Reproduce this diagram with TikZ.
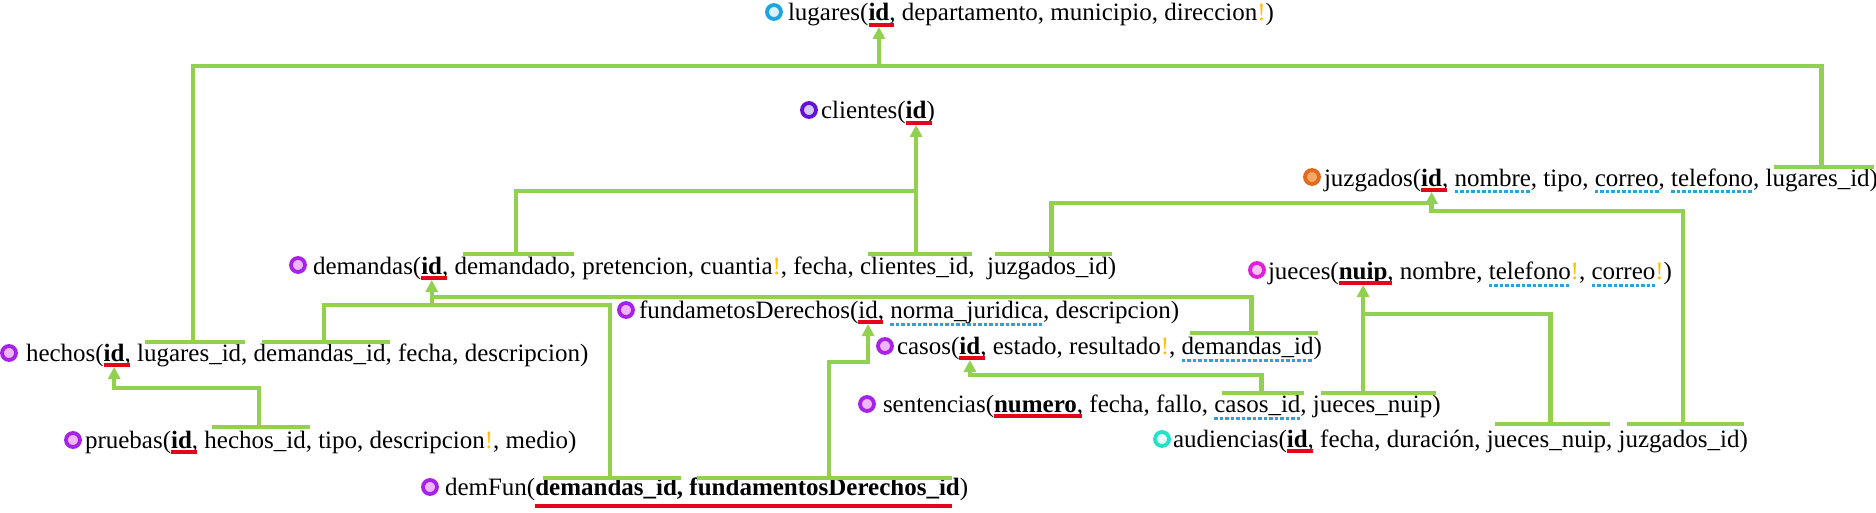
\documentclass[tikz,border=0pt]{standalone}
\usepackage{fontspec}
\setmainfont{Liberation Serif}
\usetikzlibrary{arrows.meta}
\definecolor{lgreen}{HTML}{92D050}
\definecolor{ulred}{HTML}{E3061A}
\definecolor{ulblue}{HTML}{29A3DE}
\definecolor{bangc}{HTML}{FFC000}
\definecolor{ringpur}{HTML}{A522E6}
\definecolor{fillpur}{HTML}{F0B4F8}
\definecolor{ringblue}{HTML}{1CA6E0}
\definecolor{fillblue}{HTML}{DCEFFA}
\definecolor{ringvio}{HTML}{6410D8}
\definecolor{fillvio}{HTML}{D6C8F6}
\definecolor{ringora}{HTML}{E2691E}
\definecolor{fillora}{HTML}{F6A865}
\definecolor{ringmag}{HTML}{E020D8}
\definecolor{fillmag}{HTML}{F8C4F4}
\definecolor{ringtq}{HTML}{22E3C8}
\definecolor{filltq}{HTML}{E4FFF9}
\newcommand\bang{\textcolor{bangc}{!}}
\newcommand\ws{\ \null}
\newcommand\tf{\fontsize{25}{30}\selectfont}
\newcommand\seg[3]{\node[t] (#2) at (#1.base east) {#3};}
\begin{document}
\begin{tikzpicture}[x=1pt,y=-1pt,
 t/.style={inner sep=0pt,outer sep=0pt,anchor=base west,font=\tf},
 dot/.style 2 args={circle,draw=#1,fill=#2,line width=3.8pt,minimum size=14pt,inner sep=0pt},
 conn/.style={draw=lgreen,line width=4.3pt},
 arr/.style={conn,-{Triangle[width=12pt,length=12pt]}},
 pkul/.style={draw=ulred,line width=3.5pt},
 fkul/.style={draw=ulblue,line width=3pt,dash pattern=on 3.5pt off 2pt},
]
\useasboundingbox[fill=white] (0,0) rectangle (1876,513);
% lugares
\node[dot={ringblue}{fillblue}] (lug-o) at (774,12) {};
\node[t] (lug) at (788,21) {lugares(};
\seg{lug}{lug-id}{\textbf{id}}
\seg{lug-id}{lug-r}{,\ departamento,\ municipio,\ direccion\bang)}
% clientes
\node[dot={ringvio}{fillvio}] (cli-o) at (809,110) {};
\node[t] (cli) at (821,119) {clientes(};
\seg{cli}{cli-id}{\textbf{id}}
\seg{cli-id}{cli-r}{)}
% juzgados
\node[dot={ringora}{fillora}] (juz-o) at (1312,177) {};
\node[t] (juz) at (1324,186) {juzgados(};
\seg{juz}{juz-id}{\textbf{id}}
\seg{juz-id}{juz-a}{,\ws}
\seg{juz-a}{juz-nom}{nombre}
\seg{juz-nom}{juz-b}{,\ tipo,\ws}
\seg{juz-b}{juz-cor}{correo}
\seg{juz-cor}{juz-c}{,\ws}
\seg{juz-c}{juz-tel}{telefono}
\seg{juz-tel}{juz-d}{,\ws}
\seg{juz-d}{juz-lug}{lugares\_id}
\seg{juz-lug}{juz-e}{)}
% demandas
\node[dot={ringpur}{fillpur}] (dem-o) at (298,265) {};
\node[t] (dem) at (313,274) {demandas(};
\seg{dem}{dem-id}{\textbf{id}}
\seg{dem-id}{dem-a}{,\ws}
\seg{dem-a}{dem-dmd}{demandado}
\seg{dem-dmd}{dem-b}{,\ pretencion,\ cuantia\bang,\ fecha,\ws}
\seg{dem-b}{dem-cli}{clientes\_id}
\seg{dem-cli}{dem-c}{,\ \ws}
\seg{dem-c}{dem-juz}{juzgados\_id}
\seg{dem-juz}{dem-d}{)}
% jueces
\node[dot={ringmag}{fillmag}] (jue-o) at (1257,270) {};
\node[t] (jue) at (1268,279) {jueces(};
\seg{jue}{jue-nuip}{\textbf{nuip}}
\seg{jue-nuip}{jue-a}{,\ nombre,\ws}
\seg{jue-a}{jue-tel}{telefono}
\seg{jue-tel}{jue-b}{\bang,\ws}
\seg{jue-b}{jue-cor}{correo}
\seg{jue-cor}{jue-c}{\bang)}
% fundametosDerechos
\node[dot={ringpur}{fillpur}] (fun-o) at (626,310) {};
\node[t] (fun) at (639,318) {fundametosDerechos(};
\seg{fun}{fun-id}{id}
\seg{fun-id}{fun-a}{,\ws}
\seg{fun-a}{fun-nor}{norma\_juridica}
\seg{fun-nor}{fun-b}{,\ descripcion)}
% casos
\node[dot={ringpur}{fillpur}] (cas-o) at (885,346) {};
\node[t] (cas) at (897,354) {casos(};
\seg{cas}{cas-id}{\textbf{id}}
\seg{cas-id}{cas-a}{,\ estado,\ resultado\bang,\ws}
\seg{cas-a}{cas-dem}{demandas\_id}
\seg{cas-dem}{cas-b}{)}
% hechos
\node[dot={ringpur}{fillpur}] (hec-o) at (9,353) {};
\node[t] (hec) at (26,361) {hechos(};
\seg{hec}{hec-id}{\textbf{id}}
\seg{hec-id}{hec-a}{,\ws}
\seg{hec-a}{hec-lug}{lugares\_id}
\seg{hec-lug}{hec-b}{,\ws}
\seg{hec-b}{hec-dem}{demandas\_id}
\seg{hec-dem}{hec-c}{,\ fecha,\ descripcion)}
% sentencias
\node[dot={ringpur}{fillpur}] (sen-o) at (867,404) {};
\node[t] (sen) at (883,412) {sentencias(};
\seg{sen}{sen-num}{\textbf{numero}}
\seg{sen-num}{sen-a}{,\ fecha,\ fallo,\ws}
\seg{sen-a}{sen-cas}{casos\_id}
\seg{sen-cas}{sen-b}{,\ws}
\seg{sen-b}{sen-jue}{jueces\_nuip}
\seg{sen-jue}{sen-c}{)}
% pruebas
\node[dot={ringpur}{fillpur}] (pru-o) at (73,440) {};
\node[t] (pru) at (85,448) {pruebas(};
\seg{pru}{pru-id}{\textbf{id}}
\seg{pru-id}{pru-a}{,\ws}
\seg{pru-a}{pru-hec}{hechos\_id}
\seg{pru-hec}{pru-b}{,\ tipo,\ descripcion\bang,\ medio)}
% audiencias
\node[dot={ringtq}{filltq}] (aud-o) at (1162,439) {};
\node[t] (aud) at (1173,447) {audiencias(};
\seg{aud}{aud-id}{\textbf{id}}
\seg{aud-id}{aud-a}{,\ fecha,\ duración,\ws}
\seg{aud-a}{aud-jue}{jueces\_nuip}
\seg{aud-jue}{aud-b}{,\ws}
\seg{aud-b}{aud-juz}{juzgados\_id}
\seg{aud-juz}{aud-c}{)}
% demFun
\node[dot={ringpur}{fillpur}] (df-o) at (430,487) {};
\node[t] (df) at (445,495) {demFun(};
\seg{df}{df-dem}{\textbf{demandas\_id}}
\seg{df-dem}{df-a}{\textbf{,\ws}}
\seg{df-a}{df-fun}{\textbf{fundamentosDerechos\_id}}
\seg{df-fun}{df-b}{)}
% underlines
\foreach \n in {lug-id,cli-id,juz-id,dem-id,jue-nuip,fun-id,cas-id,hec-id,sen-num,pru-id,aud-id}
  \draw[pkul] ([yshift=-4pt]\n.base west) -- ([xshift=5pt,yshift=-4pt]\n.base east);
\draw[pkul] ([yshift=-11pt]df-dem.base west) -- ([xshift=-8pt,yshift=-11pt]df-fun.base east);
\foreach \n in {juz-nom,juz-cor,juz-tel,jue-tel,jue-cor,fun-nor,cas-dem,sen-cas}
  \draw[fkul] ([yshift=-6pt]\n.base west) -- ([yshift=-6pt]\n.base east);
% bars
\foreach \n/\y/\e in {hec-lug/342/4,hec-dem/342/4,dem-dmd/254/4,dem-cli/254/4,dem-juz/254/4,juz-lug/167/4,cas-dem/333/4,sen-cas/393/4,sen-jue/393/4,aud-jue/424/4,aud-juz/424/4,pru-hec/427/4,df-dem/478/4,df-fun/478/-8}{
  \draw[conn] ([xshift=8pt]\n.base west |- 0,\y) -- ([xshift=\e pt]\n.base east |- 0,\y);
  \coordinate (\n-b) at ([xshift=4pt]\n.base);
}
% connectors
\draw[conn] (hec-lug-b |- 0,342) -- (hec-lug-b |- 0,66) -- (juz-lug-b |- 0,66) -- (juz-lug-b |- 0,167);
\draw[arr] (lug-id.base |- 0,68) -- ([yshift=-6pt]lug-id.base);
\draw[conn] (dem-dmd-b |- 0,254) -- (dem-dmd-b |- 0,191) -- (cli-id.base |- 0,191);
\draw[arr] (cli-id.base |- 0,254) -- ([yshift=-6pt]cli-id.base);
\draw[conn] (dem-juz-b |- 0,254) -- (dem-juz-b |- 0,203) -- (juz-id.base |- 0,203);
\draw[conn] (aud-juz-b |- 0,424) -- (aud-juz-b |- 0,211) -- (juz-id.base |- 0,211);
\draw[arr] (juz-id.base |- 0,213) -- ([yshift=-6pt]juz-id.base);
\draw[conn] (aud-jue-b |- 0,424) -- (aud-jue-b |- 0,314) -- (jue-nuip.base |- 0,314);
\draw[arr] (jue-nuip.base |- 0,393) -- ([yshift=-6pt]jue-nuip.base);
\draw[conn] (hec-dem-b |- 0,342) -- (hec-dem-b |- 0,305) -- (df-dem-b |- 0,305) -- (df-dem-b |- 0,478);
\draw[conn] (cas-dem-b |- 0,333) -- (cas-dem-b |- 0,297) -- (dem-id.base |- 0,297);
\draw[arr] (dem-id.base |- 0,307) -- ([yshift=-6pt]dem-id.base);
\draw[conn] (df-fun-b |- 0,478) -- (df-fun-b |- 0,362) -- (fun-id.base |- 0,362);
\draw[arr] (fun-id.base |- 0,364) -- ([yshift=-6pt]fun-id.base);
\draw[conn] (sen-cas-b |- 0,393) -- (sen-cas-b |- 0,375) -- (cas-id.base |- 0,375);
\draw[arr] (cas-id.base |- 0,377) -- ([yshift=-6pt]cas-id.base);
\draw[conn] (pru-hec-b |- 0,427) -- (pru-hec-b |- 0,388) -- (hec-id.base |- 0,388);
\draw[arr] (hec-id.base |- 0,390) -- ([yshift=-6pt]hec-id.base);
\end{tikzpicture}
\end{document}
